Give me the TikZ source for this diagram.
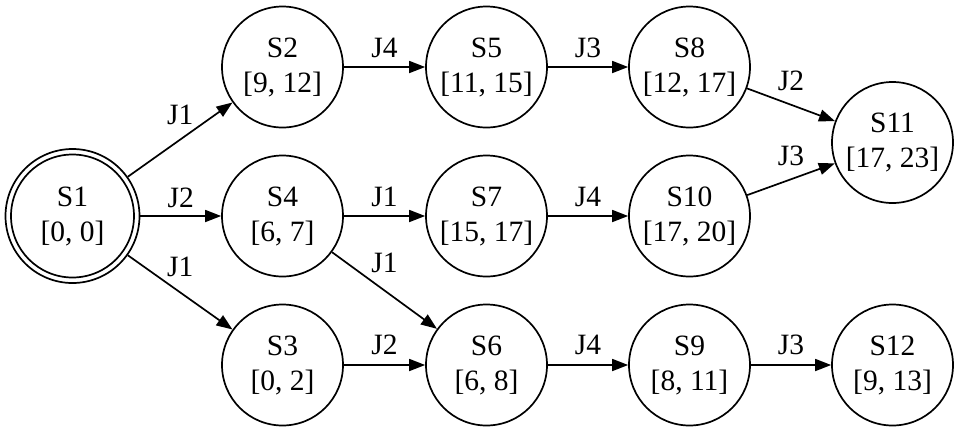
\documentclass[tikz,border=0pt]{standalone}
\usepackage{fontspec}
\setmainfont{Liberation Serif}
\usetikzlibrary{arrows.meta}
\begin{document}
\begin{tikzpicture}[x=1bp,y=-1bp,
  state/.style={circle,draw,line width=1.7bp,minimum size=121bp,inner sep=0pt,
    align=center,font=\fontsize{29.5bp}{35bp}\selectfont},
  outerstate/.style={state,minimum size=134bp},
  edge/.style={line width=1.7bp,-{Triangle[length=16bp,width=12bp]}},
  lbl/.style={font=\fontsize{29.5bp}{35bp}\selectfont,inner sep=0pt,midway}]
\useasboundingbox (0,0) rectangle (960,431);
\node[outerstate] (S1) at (72.5,216) {S1\\{[0, 0]}};
\draw[line width=1.7bp] (S1.center) circle[radius=61.5bp];
\node[state] (S2) at (282.5,67) {S2\\{[9, 12]}};
\node[state] (S5) at (486.5,67) {S5\\{[11, 15]}};
\node[state] (S8) at (689.5,67) {S8\\{[12, 17]}};
\node[state] (S11) at (892.5,142.5) {S11\\{[17, 23]}};
\node[state] (S4) at (282.5,216) {S4\\{[6, 7]}};
\node[state] (S7) at (486.5,216) {S7\\{[15, 17]}};
\node[state] (S10) at (689.5,216) {S10\\{[17, 20]}};
\node[state] (S3) at (282.5,365) {S3\\{[0, 2]}};
\node[state] (S6) at (486.5,365) {S6\\{[6, 8]}};
\node[state] (S9) at (689.5,365) {S9\\{[8, 11]}};
\node[state] (S12) at (892.5,365) {S12\\{[9, 13]}};
\draw[edge] (S1) -- node[lbl,yshift=25bp]{J1} (S2);
\draw[edge] (S1) -- node[lbl,yshift=18bp]{J2} (S4);
\draw[edge] (S1) -- node[lbl,yshift=25bp]{J1} (S3);
\draw[edge] (S2) -- node[lbl,yshift=19bp]{J4} (S5);
\draw[edge] (S5) -- node[lbl,yshift=19bp]{J3} (S8);
\draw[edge] (S8) -- node[lbl,yshift=24bp]{J2} (S11);
\draw[edge] (S10) -- node[lbl,yshift=23bp]{J3} (S11);
\draw[edge] (S4) -- node[lbl,yshift=19bp]{J1} (S7);
\draw[edge] (S7) -- node[lbl,yshift=19bp]{J4} (S10);
\draw[edge] (S4) -- node[lbl,yshift=28bp]{J1} (S6);
\draw[edge] (S3) -- node[lbl,yshift=20bp]{J2} (S6);
\draw[edge] (S6) -- node[lbl,yshift=20bp]{J4} (S9);
\draw[edge] (S9) -- node[lbl,yshift=20bp]{J3} (S12);
\end{tikzpicture}
\end{document}
